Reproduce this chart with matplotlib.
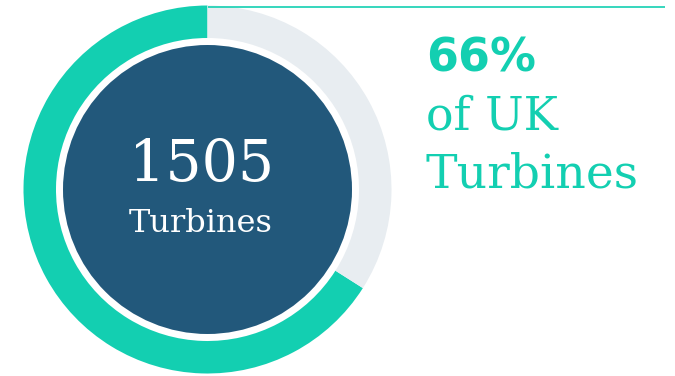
import matplotlib
matplotlib.use("Agg")
import matplotlib.pyplot as plt
from matplotlib.patches import Circle

# Share of UK turbines and the count behind it
share_pct = 66
turbine_count = 1505
ring_values = [share_pct, 100 - share_pct]
ring_colors = ["#13cfb1", "#e8edf1"]
headline = "%d%%" % share_pct
sub_lines = ["of UK", "Turbines"]
inner_label = "Turbines"

TEAL = "#13cfb1"
NAVY = "#22587b"

fig = plt.figure(figsize=(6.75, 3.76), dpi=100)
ax = fig.add_axes([0, 0, 1, 1])

# ring, drawn in pixel units (y up)
cx, cy = 207.5, 186.5
ax.pie(ring_values, colors=ring_colors, startangle=90, counterclock=True,
       center=(cx, cy), radius=184, frame=True,
       wedgeprops=dict(width=32.5, linewidth=0))

# filled centre disc
ax.add_patch(Circle((cx, cy), 144.5, facecolor=NAVY, edgecolor="none"))

ax.text(cx - 6, cy + 8, str(turbine_count), color="white", ha="center",
        va="baseline", fontsize=41, family="DejaVu Serif")
ax.text(cx - 7, cy - 42, inner_label, color="white", ha="center",
        va="baseline", fontsize=23, family="DejaVu Serif")

# thin rule across the top
ax.plot([cx, 665], [369, 369], color=TEAL, lw=1.2, solid_capstyle="butt")

# headline on the right
ax.text(426, 376 - 72, headline, color=TEAL, ha="left", va="baseline",
        fontsize=33, fontweight="bold", family="DejaVu Sans")
ax.text(426, 376 - 130, sub_lines[0], color=TEAL, ha="left", va="baseline",
        fontsize=33, family="DejaVu Serif")
ax.text(426, 376 - 187, sub_lines[1], color=TEAL, ha="left", va="baseline",
        fontsize=34, family="DejaVu Serif")

ax.set_xlim(0, 675)
ax.set_ylim(0, 376)
ax.set_aspect("equal")
ax.axis("off")

fig.savefig("out.png", dpi=100, facecolor="white")
